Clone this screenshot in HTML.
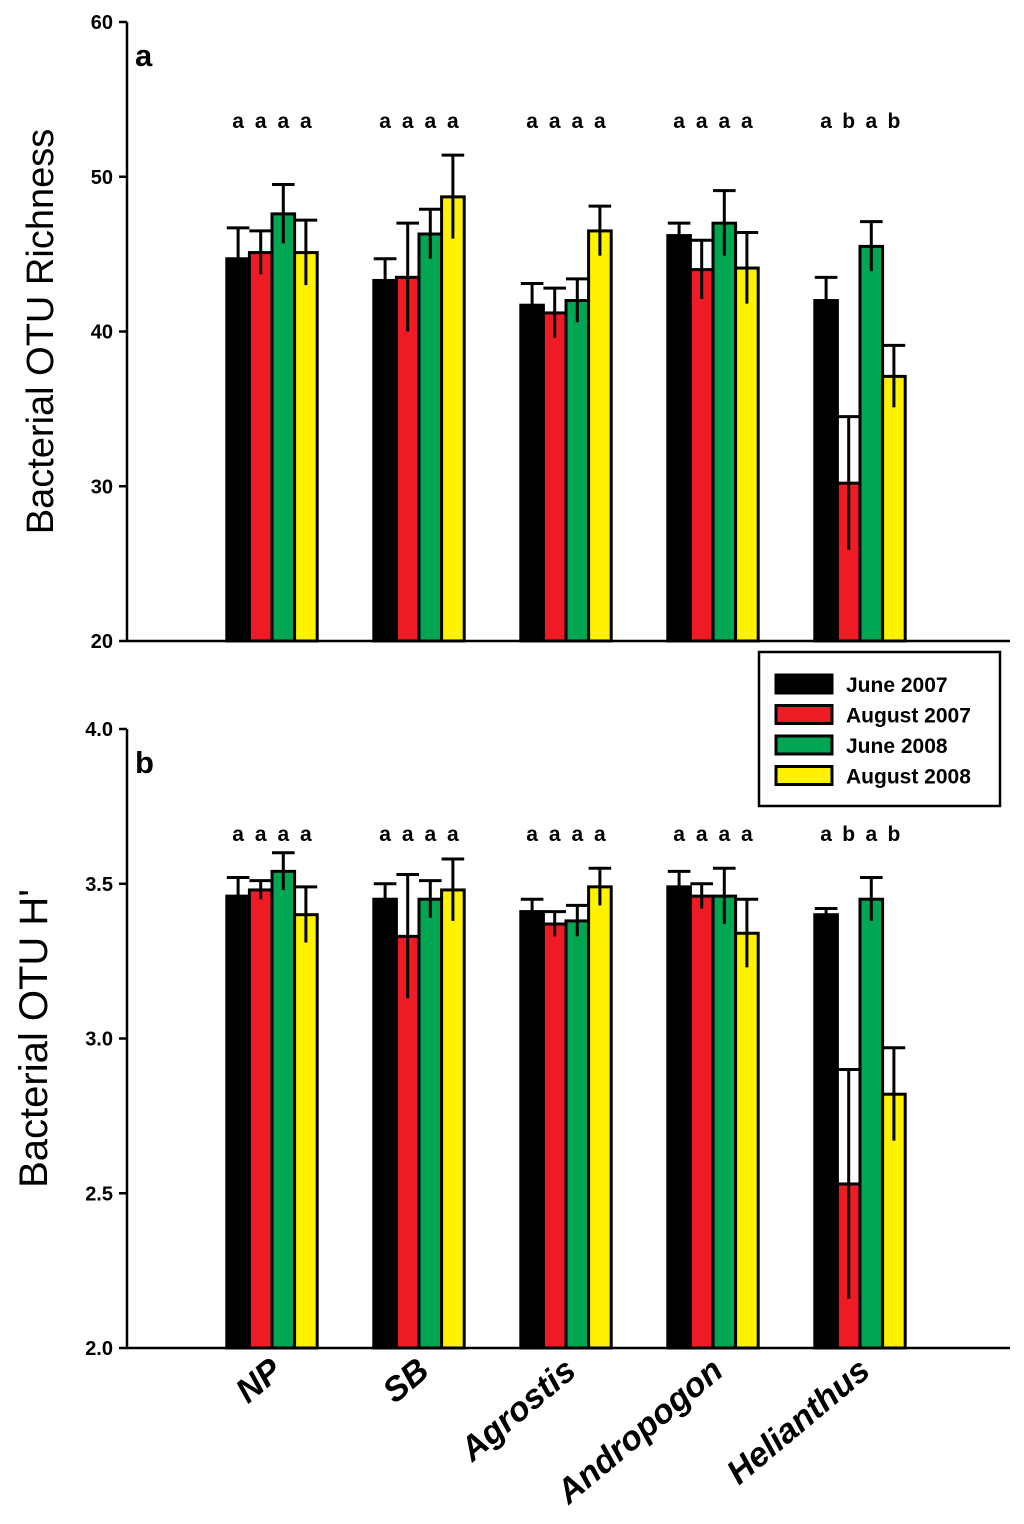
<!DOCTYPE html>
<html><head><meta charset="utf-8"><style>
body{margin:0;background:#fff;}
svg text{font-family:"Liberation Sans",sans-serif;}
</style></head><body>
<svg id="chart" width="1024" height="1519" xmlns="http://www.w3.org/2000/svg"></svg>
<script>
const categories=["NP","SB","Agrostis","Andropogon","Helianthus"];
const seriesNames=["June 2007","August 2007","June 2008","August 2008"];
const seriesColors=["#000000","#ed1c24","#00a651","#fff200"];
const richJun07=[44.7,43.3,41.7,46.2,42.0];
const richAug07=[45.1,43.5,41.2,44.0,30.2];
const richJun08=[47.6,46.3,42.0,47.0,45.5];
const richAug08=[45.1,48.7,46.5,44.1,37.1];
const richErrJun07=[2.0,1.4,1.4,0.8,1.5];
const richErrAug07=[1.4,3.5,1.6,1.9,4.3];
const richErrJun08=[1.9,1.6,1.4,2.1,1.6];
const richErrAug08=[2.1,2.7,1.6,2.3,2.0];
const hJun07=[3.46,3.45,3.41,3.49,3.40];
const hAug07=[3.48,3.33,3.37,3.46,2.53];
const hJun08=[3.54,3.45,3.38,3.46,3.45];
const hAug08=[3.40,3.48,3.49,3.34,2.82];
const hErrJun07=[0.06,0.05,0.04,0.05,0.02];
const hErrAug07=[0.03,0.20,0.04,0.04,0.37];
const hErrJun08=[0.06,0.06,0.05,0.09,0.07];
const hErrAug08=[0.09,0.10,0.06,0.11,0.15];
const richLetters=[["a","a","a","a"],["a","a","a","a"],["a","a","a","a"],["a","a","a","a"],["a","b","a","b"]];
const hLetters=[["a","a","a","a"],["a","a","a","a"],["a","a","a","a"],["a","a","a","a"],["a","b","a","b"]];
const richTicks=[20,30,40,50,60];
const hTicks=[2.0,2.5,3.0,3.5,4.0];

const svg=document.getElementById('chart');
const NS="http://www.w3.org/2000/svg";
function mk(tag,attrs,parent){const e=document.createElementNS(NS,tag);for(const k in attrs)e.setAttribute(k,attrs[k]);(parent||svg).appendChild(e);return e;}
const xL=127,xR=1010,groupStart=272,groupStep=147,barW=22.6;
function xCenter(i){return groupStart+i*groupStep;}
function barX(i,s){return xCenter(i)-2*barW+s*barW;}

function panel(cfg){
  const {top,bottom,min,max,series,errs,ticks,letters,letterY,label,title,titleX,titleSize,name,fmt}=cfg;
  const y=v=>bottom-(v-min)/(max-min)*(bottom-top);
  const g=mk('g',{});
  
  
  const ax=mk('path',{d:`M${xL} ${top}V${bottom}H${xR}`,stroke:'#000','stroke-width':2.5,fill:'none'},g);
  
  
  ticks.forEach(t=>{
    mk('line',{x1:xL-8,x2:xL,y1:y(t),y2:y(t),stroke:'#000','stroke-width':2.5},g);
    const tl=mk('text',{x:xL-14,y:y(t)+7,'text-anchor':'end','font-size':20,'font-weight':'bold'},g);
    tl.textContent=fmt(t);
    
    
  });
  categories.forEach((c,i)=>{
    series.forEach((arr,s)=>{
      const v=arr[i],e=errs[s][i],bx=barX(i,s);
      const r=mk('rect',{x:bx,y:y(v),width:barW,height:bottom-y(v),fill:seriesColors[s],stroke:'#000','stroke-width':3},g);
      
      
      const cx=bx+barW/2;
      mk('line',{x1:cx,x2:cx,y1:y(v-e),y2:y(v+e),stroke:'#000','stroke-width':3},g);
      mk('line',{x1:cx-barW/2,x2:cx+barW/2,y1:y(v+e),y2:y(v+e),stroke:'#000','stroke-width':3},g);
      const lt=mk('text',{x:cx,y:letterY,'text-anchor':'middle','font-size':21,'font-weight':'bold'},g);
      lt.textContent=letters[i][s];
      
      
    });
  });
  const pl=mk('text',{x:135,y:top+44,'font-size':31,'font-weight':'bold'},g);
  pl.textContent=label;
  
  
  const yc=(top+bottom)/2;
  const yt=mk('text',{x:titleX,y:yc,'text-anchor':'middle','font-size':titleSize,transform:`rotate(-90 ${titleX} ${yc})`},g);
  yt.textContent=title;
  
  
}
panel({top:22,bottom:641,min:20,max:60,series:[richJun07,richAug07,richJun08,richAug08],errs:[richErrJun07,richErrAug07,richErrJun08,richErrAug08],ticks:richTicks,letters:richLetters,letterY:128,label:'a',title:'Bacterial OTU Richness',titleX:53,titleSize:38,name:'richness-panel',fmt:t=>String(t)});
panel({top:729,bottom:1348,min:2,max:4,series:[hJun07,hAug07,hJun08,hAug08],errs:[hErrJun07,hErrAug07,hErrJun08,hErrAug08],ticks:hTicks,letters:hLetters,letterY:841,label:'b',title:"Bacterial OTU H'",titleX:47,titleSize:40,name:'diversity-panel',fmt:t=>t.toFixed(1)});

categories.forEach((c,i)=>{
  const x=xCenter(i)+12,yy=1374;
  const t=mk('text',{x:x,y:yy,'text-anchor':'end','font-size':34,'font-style':'italic','font-weight':'bold',transform:`rotate(-40 ${x} ${yy})`});
  t.textContent=c;
  
  
});

const lg=mk('g',{});


mk('rect',{x:759,y:652,width:241,height:154,fill:'#fff',stroke:'#000','stroke-width':2.5},lg);
seriesNames.forEach((n,s)=>{
  const yy=675+s*30.5;
  const sw=mk('rect',{x:776,y:yy,width:56,height:18,fill:seriesColors[s],stroke:'#000','stroke-width':3},lg);
  
  
  const t=mk('text',{x:846,y:yy+17,'font-size':21,'font-weight':'bold'},lg);
  t.textContent=n;
  
  
});
</script>
</body></html>
